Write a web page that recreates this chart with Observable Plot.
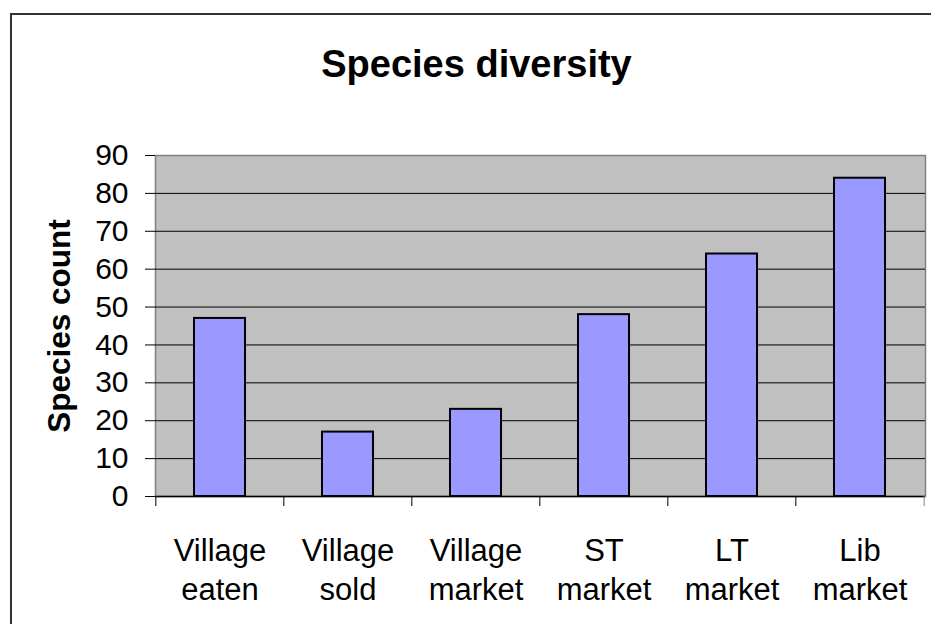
<!DOCTYPE html>
<html>
<head>
<meta charset="utf-8">
<script src="https://cdn.jsdelivr.net/npm/d3@7"></script>
<script src="https://cdn.jsdelivr.net/npm/@observablehq/plot@0.6"></script>
<style>
  html, body { margin: 0; padding: 0; background: #fff; }
  #wrap { position: relative; width: 931px; height: 624px; overflow: hidden; background: #fff;
          font-family: "Liberation Sans", Arial, Helvetica, sans-serif; }
  #border { position: absolute; left: 10px; top: 13px; width: 1000px; height: 700px;
            border: 2px solid #333; box-sizing: border-box; }
  #title { position: absolute; left: 11px; top: 45px; width: 931px; text-align: center;
           font-size: 38px; line-height: 38px; font-weight: bold; color: #000; }
  #chart { position: absolute; left: 0; top: 125px; }
</style>
</head>
<body>
<div id="wrap">
  <div id="border"></div>
  <div id="title">Species diversity</div>
  <div id="chart"></div>
</div>
<script>
const categories = ["Village eaten", "Village sold", "Village market", "ST market", "LT market", "Lib market"];
const speciesCount = [47, 17, 23, 48, 64, 84];
const yTicks = [0, 10, 20, 30, 40, 50, 60, 70, 80, 90];
const yLabel = "Species count";

const data = categories.map((c, i) => ({category: c, value: speciesCount[i]}));

const W = 931, H = 499, ML = 155, MR = 6, MT = 30, MB = 128;
const step = (W - ML - MR) / categories.length;

const plot = Plot.plot({
  width: W,
  height: H,
  marginLeft: ML,
  marginRight: MR,
  marginTop: MT,
  marginBottom: MB,
  style: {fontFamily: '"Liberation Sans", Arial, sans-serif', fontSize: "30px", color: "#000", background: "transparent", overflow: "visible"},
  x: {domain: categories, paddingInner: 0.6, paddingOuter: 0.3, label: null},
  y: {domain: [0, 90], label: null},
  marks: [
    Plot.frame({fill: "#c0c0c0", stroke: "#808080", strokeWidth: 1.5}),
    Plot.gridY(yTicks.filter(t => t > 0 && t < 90), {stroke: "#000", strokeOpacity: 1, strokeWidth: 1}),
    Plot.barY(data, {x: "category", y: "value", fill: "#9999ff", stroke: "#000", strokeWidth: 2}),
    Plot.ruleY([0], {stroke: "#000", strokeWidth: 1.5}),
    Plot.axisY(yTicks, {tickSize: 10, tickPadding: 17, fontSize: 30, stroke: "#000", label: null}),
    Plot.axisX({tickSize: 0, tickPadding: 37, fontSize: 31, lineHeight: 1.26, label: null,
                tickFormat: d => d.replace(" ", "\n")}),
    Plot.ruleX(categories, {x: d => d, y1: 0, y2: 0, insetBottom: -10, dx: -step / 2, stroke: "#000"}),
    Plot.ruleX(categories.slice(-1), {x: d => d, y1: 0, y2: 0, insetBottom: -10, dx: step / 2, stroke: "#808080"}),
    Plot.text([yLabel], {frameAnchor: "left", textAnchor: "middle", dx: -96, rotate: -90, fontSize: 31.5, fontWeight: "bold", fill: "#000"})
  ]
});
document.getElementById("chart").appendChild(plot);
</script>
</body>
</html>
